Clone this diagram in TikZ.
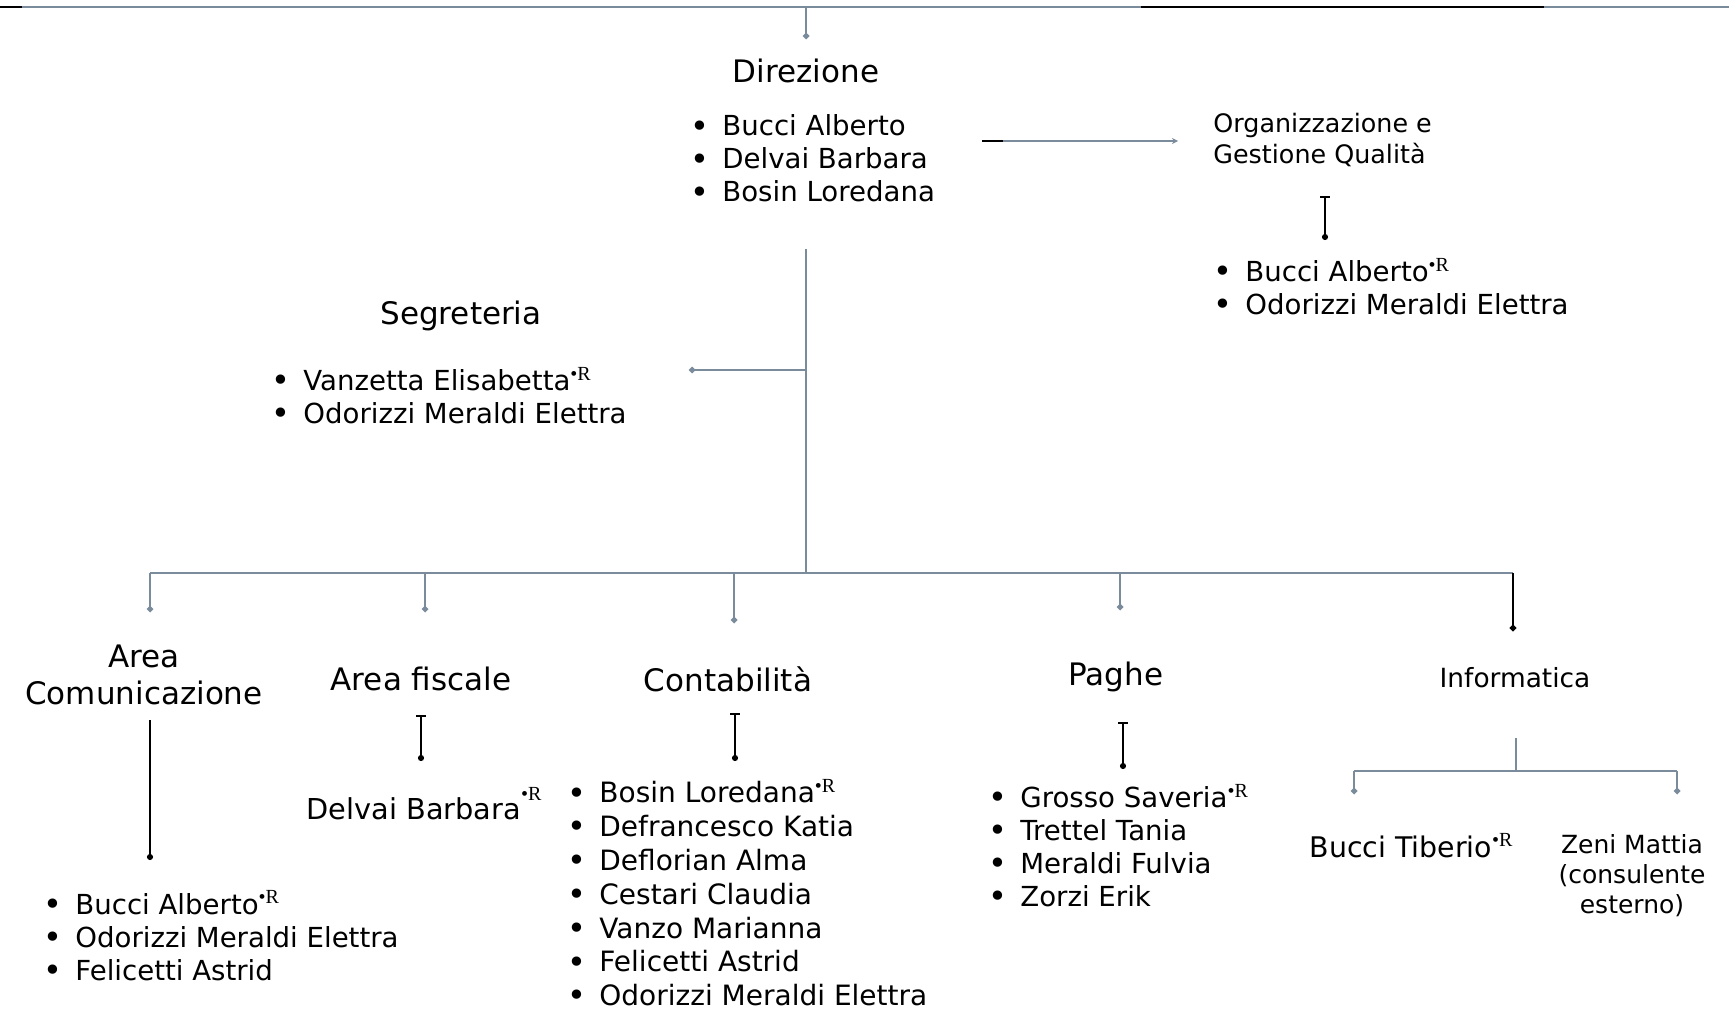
\documentclass[tikz,border=0pt]{standalone}
\usepackage{fontspec}
\setmainfont{DejaVu Sans}
\newfontfamily\serifR{Liberation Serif}
\usetikzlibrary{arrows.meta}
\definecolor{linegrey}{RGB}{122,140,156}
\newcommand{\lbul}{\makebox[16pt][l]{\raisebox{-0.6pt}{\fontsize{16}{0}\selectfont\textbullet}}}
\newcommand{\respR}{\raisebox{0.7ex}{\fontsize{10}{0}\selectfont\serifR\textbullet R}}
\begin{document}
\begin{tikzpicture}[
x=0.5pt, y=-0.5pt,
head/.style={inner sep=0pt, align=center, font=\fontsize{15.5}{18.5}\selectfont},
namelist/.style={inner sep=0pt, anchor=west, align=left, font=\fontsize{13.8}{16.5}\selectfont},
link/.style={draw=linegrey, line width=1.2pt},
drop/.style={link, -{Circle[length=3pt]}},
stem/.style={black, line width=1pt, {Bar[width=5pt]}-{Circle[length=3pt]}},
]
\useasboundingbox (0,0) rectangle (1729,1016);

%Top rule
\draw[link] (0,7) -- (1729,7);
\draw[black, line width=1.4pt] (0,7) -- (22,7);
\draw[black, line width=1.4pt] (1141,7) -- (1544,7);

%Direzione
\node[head] (dir) at (806,71) {Direzione};
\node[namelist] (dirlist) at (690,159) {\lbul Bucci Alberto\\ \lbul Delvai Barbara\\ \lbul Bosin Loredana};
\coordinate (dirin) at (806,7);
\coordinate (dirtop) at (806,39);
\draw[drop] (dirin) -- (dirtop);

%Organizzazione e Gestione Qualita
\node[head, anchor=west, align=left, font=\fontsize{12.7}{15.4}\selectfont] (org) at (1213,140) {Organizzazione e\\Gestione Qualità};
\node[namelist] (orglist) at (1213,287) {\lbul Bucci Alberto\respR\\ \lbul Odorizzi Meraldi Elettra};
\coordinate (dirright) at (982,141);
\coordinate (dirblack) at (1003,141);
\coordinate (orgleft) at (1178,141);
\draw[link, -{Stealth[length=3pt, width=3pt]}] (dirright) -- (orgleft);
\draw[black, line width=1.2pt] (dirright) -- (dirblack);
\coordinate (orgtop) at (1325,196);
\coordinate (orgbot) at (1325,240);
\draw[stem] (orgtop) -- (orgbot);

%Trunk and Segreteria
\coordinate (trunktop) at (806,249);
\coordinate (segjoin) at (806,370);
\coordinate (segend) at (689,370);
\coordinate (busmid) at (806,573);
\draw[link] (trunktop) -- (busmid);
\draw[drop] (segjoin) -- (segend);
\node[head] (seg) at (461,316) {Segreteria};
\node[namelist] (seglist) at (271,396) {\lbul Vanzetta Elisabetta\respR\\ \lbul Odorizzi Meraldi Elettra};

%Bus to the areas
\coordinate (bus1) at (150,573);
\coordinate (bus2) at (425,573);
\coordinate (bus3) at (734,573);
\coordinate (bus4) at (1120,573);
\coordinate (bus5) at (1513,573);
\draw[link] (bus1) -- (bus5);
\coordinate (in1) at (150,612);
\coordinate (in2) at (425,612);
\coordinate (in3) at (734,623);
\coordinate (in4) at (1120,610);
\coordinate (in5) at (1513,631);
\draw[drop] (bus1) -- (in1);
\draw[drop] (bus2) -- (in2);
\draw[drop] (bus3) -- (in3);
\draw[drop] (bus4) -- (in4);
\draw[black, line width=1.4pt, -{Circle[length=3pt]}] (bus5) -- (in5);

%Area Comunicazione
\node[head] (com) at (144,675) {Area\\Comunicazione};
\node[namelist] (comlist) at (43,936) {\lbul Bucci Alberto\respR\\ \lbul Odorizzi Meraldi Elettra\\ \lbul Felicetti Astrid};
\coordinate (comtop) at (150,720);
\coordinate (combot) at (150,860);
\draw[black, line width=0.8pt, -{Circle[length=3pt]}] (comtop) -- (combot);

%Area fiscale
\node[head] (fis) at (421,679) {Area fiscale};
\node[namelist, anchor=center, font=\fontsize{14.4}{17}\selectfont] (fisname) at (424,804) {Delvai Barbara\raisebox{1.2ex}{\fontsize{10}{0}\selectfont\serifR\textbullet R}};
\coordinate (fistop) at (421,715);
\coordinate (fisbot) at (421,761);
\draw[stem] (fistop) -- (fisbot);

%Contabilita
\node[head] (cont) at (728,679) {Contabilità};
\node[namelist, font=\fontsize{14}{16.9}\selectfont] (contlist) at (567,893) {\lbul Bosin Loredana\respR\\ \lbul Defrancesco Katia\\ \lbul Deflorian Alma\\ \lbul Cestari Claudia\\ \lbul Vanzo Marianna\\ \lbul Felicetti Astrid\\ \lbul Odorizzi Meraldi Elettra};
\coordinate (conttop) at (735,713);
\coordinate (contbot) at (735,761);
\draw[stem] (conttop) -- (contbot);

%Paghe
\node[head] (paghe) at (1116,677) {Paghe};
\node[namelist] (pagelist) at (988,846) {\lbul Grosso Saveria\respR\\ \lbul Trettel Tania\\ \lbul Meraldi Fulvia\\ \lbul Zorzi Erik};
\coordinate (pagtop) at (1123,722);
\coordinate (pagbot) at (1123,769);
\draw[stem] (pagtop) -- (pagbot);

%Informatica
\node[head, font=\fontsize{13.2}{16}\selectfont] (info) at (1515,678) {Informatica};
\node[head, font=\fontsize{14.2}{17}\selectfont] (tib) at (1411,846) {Bucci Tiberio\respR};
\node[head, font=\fontsize{12.5}{15}\selectfont] (zeni) at (1632,876) {Zeni Mattia\\(consulente\\esterno)};
\coordinate (infotop) at (1516,738);
\coordinate (infojoin) at (1516,771);
\coordinate (infoleft) at (1354,771);
\coordinate (inforight) at (1677,771);
\coordinate (tibtop) at (1354,794);
\coordinate (zenitop) at (1677,794);
\draw[link] (infotop) -- (infojoin);
\draw[link] (infoleft) -- (inforight);
\draw[drop] (infoleft) -- (tibtop);
\draw[drop] (inforight) -- (zenitop);
\end{tikzpicture}
\end{document}
